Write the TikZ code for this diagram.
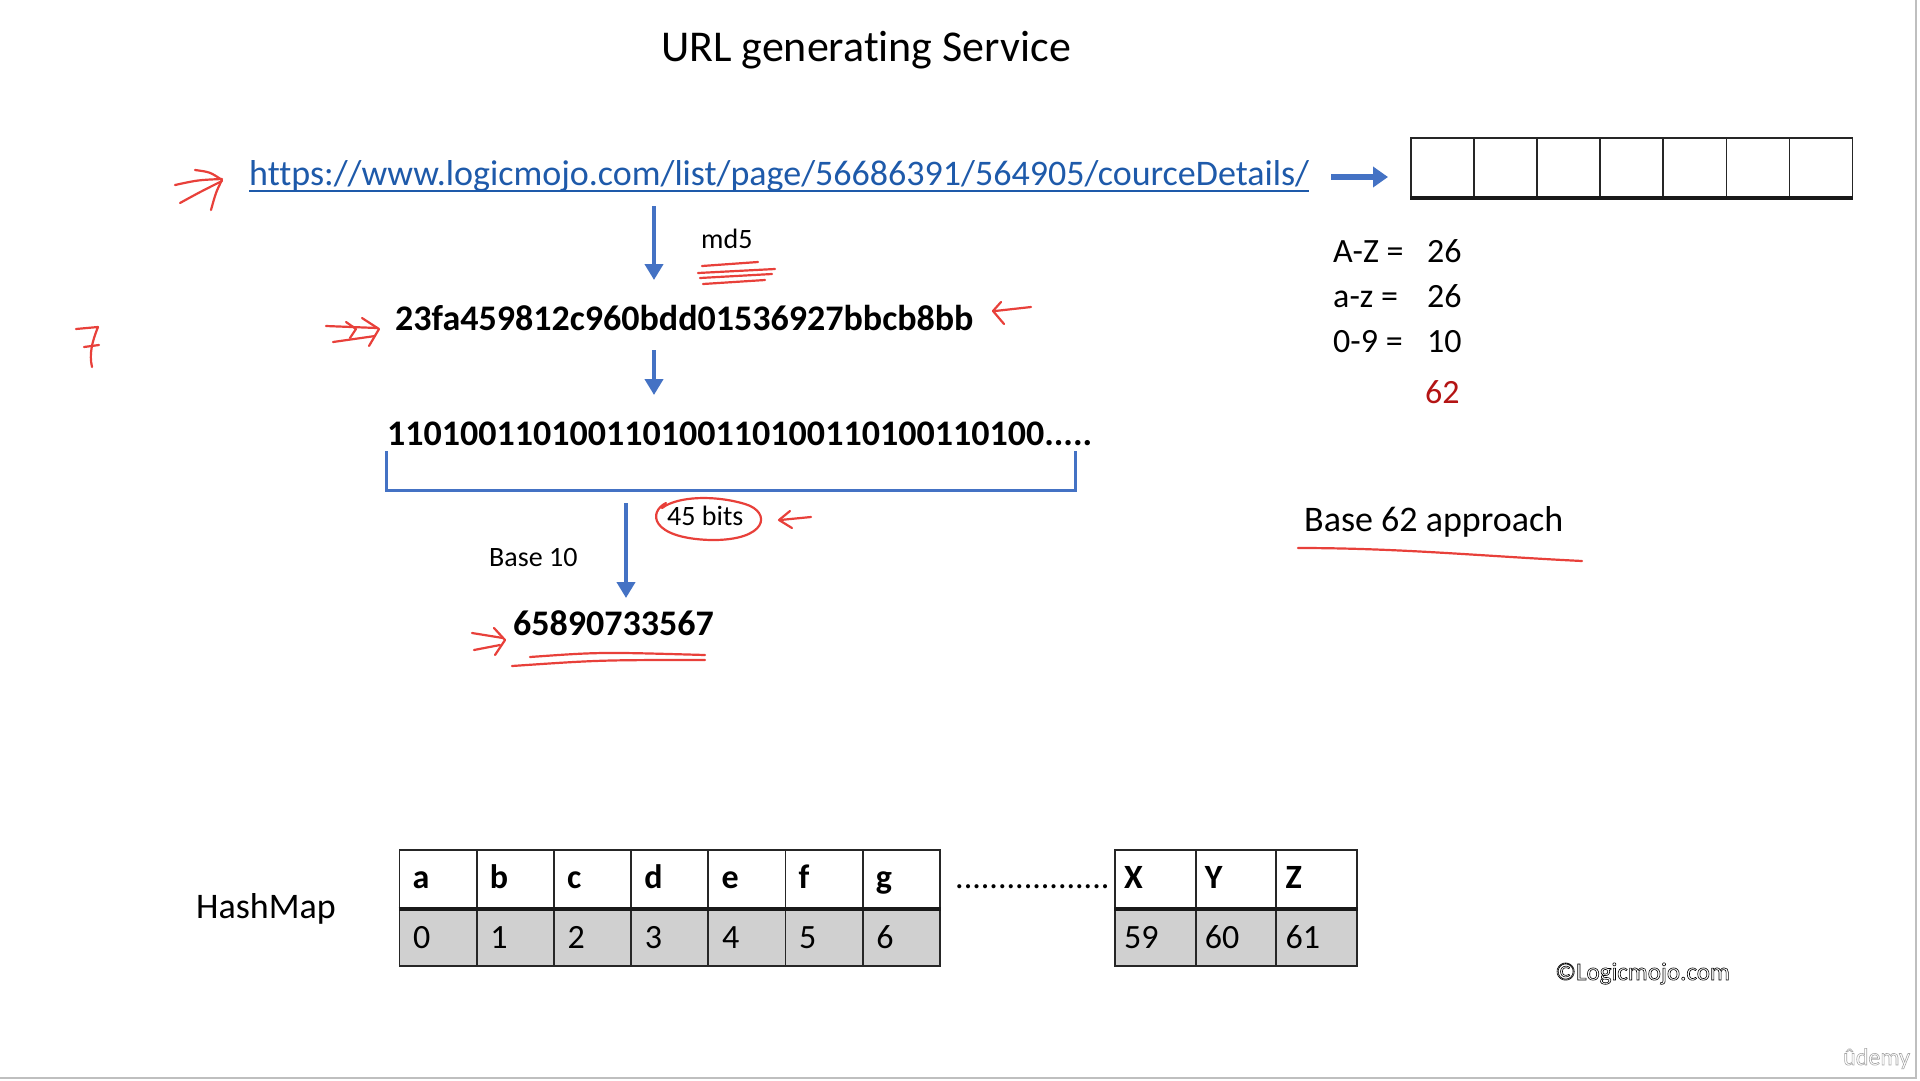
\documentclass[tikz,border=0pt]{standalone}
\usepackage{fontspec}
\setmainfont{Carlito}[Ligatures=NoCommon]
\usetikzlibrary{arrows.meta,calc}
\definecolor{urlblue}{RGB}{30,90,170}
\definecolor{arrblue}{RGB}{68,114,196}
\definecolor{inkred}{RGB}{232,64,58}
\definecolor{darkred}{RGB}{180,20,20}
\definecolor{cellgray}{RGB}{208,208,208}
\newcommand{\outlineon}[1]{\special{pdf:literal direct 1 Tr #1 w}}
\newcommand{\outlineoff}{\special{pdf:literal direct 0 Tr}}
\begin{document}
\begin{tikzpicture}[x=1pt,y=-1pt,
  txt/.style={inner sep=0pt, anchor=base west},
  fs/.style={font=\fontsize{#1}{#1}\selectfont},
  fsb/.style={font=\fontsize{#1}{#1}\selectfont\bfseries},
  blarrow/.style={draw=arrblue, line width=4.5pt, -{Triangle[width=18pt,length=16pt]}},
  ink/.style={draw=inkred, line width=2.2pt, line cap=round, line join=round},
  cell/.style={draw=black!85, line width=1.8pt, inner sep=0pt, anchor=north west, minimum height=58pt}
]
\useasboundingbox[fill=white] (0,0) rectangle (1920,1080);

% title
\node[fs=44, inner sep=0pt, anchor=base] (title) at (866,61) {URL generating Service};

% URL
\node[txt, fs=36, text=urlblue] (url) at (249,185) {https://www.logicmojo.com/list/page/56686391/564905/courceDetails/};
\draw[urlblue, line width=2.4pt] ([yshift=-6pt]url.base west) -- ([yshift=-6pt]url.base east);

% arrow to boxes
\coordinate (ra1) at (1331,177);
\coordinate (ra2) at (1388,177);
\draw[blarrow, line width=6pt, -{Triangle[width=20pt,length=15pt]}] (ra1) -- (ra2);

% boxes
\foreach \i in {0,...,6}{
  \node[draw=black!85, line width=1.5pt, minimum width=63.1pt, minimum height=59pt, inner sep=0pt, anchor=north west] (box\i) at (1410+\i*63.1,137) {};
}
\draw[line width=4pt, black!90] (box0.south west) -- (box6.south east);

% md5 arrow
\coordinate (a1s) at (654,206);
\coordinate (a1e) at (654,280);
\draw[blarrow] (a1s) -- (a1e);
\node[txt, fs=28] (md5) at (701,248) {md5};

% hash
\node[txt, fsb=36] (hash) at (395,330) {23fa459812c960bdd01536927bbcb8bb};

\coordinate (a2s) at (654,350);
\coordinate (a2e) at (654,395);
\draw[blarrow] (a2s) -- (a2e);

% binary
\node[txt, fsb=36] (bin) at (387,445) {110100110100110100110100110100110100.....};
\coordinate (br1) at (386,451);
\coordinate (br2) at (386,490);
\coordinate (br3) at (1075,490);
\coordinate (br4) at (1075,451);
\draw[arrblue, line width=3pt] (br1) -- (br2) -- (br3) -- (br4);

\coordinate (a3s) at (626,503);
\coordinate (a3e) at (626,598);
\draw[blarrow] (a3s) -- (a3e);
\node[txt, fs=28] (bits) at (667,525) {45 bits};
\node[txt, fs=28] (b10) at (489,566) {Base 10};

% decimal
\node[txt, fsb=36] (dec) at (513,635) {65890733567};

% right side counts
\node[txt, fs=34] (az) at (1333,262) {A-Z =};
\node[txt, fs=34] (azn) at (1427,262) {26};
\node[txt, fs=34] (lz) at (1333,307) {a-z =};
\node[txt, fs=34] (lzn) at (1427,307) {26};
\node[txt, fs=34] (dz) at (1333,352) {0-9 =};
\node[txt, fs=34] (dzn) at (1427,352) {10};
\node[txt, fs=34, text=darkred] (sum) at (1425,403) {62};

\node[txt, fs=36] (b62) at (1304,531) {Base 62 approach};

% HashMap
\node[txt, fs=36] (hm) at (196,918) {HashMap};
\foreach \l/\n [count=\i from 0] in {a/0,b/1,c/2,d/3,e/4,f/5,g/6}{
  \node[cell, minimum width=77.2pt] (L\i) at (398.5+\i*77.2,849) {};
  \node[cell, minimum width=77.2pt, fill=cellgray] (N\i) at (398.5+\i*77.2,907) {};
  \node[txt, fsb=34] (lt\i) at (412.5+\i*77.2,888) {\l};
  \node[txt, fs=34] (nt\i) at (413+\i*77.2,948) {\n};
}
\draw[line width=4.5pt, black!90] (L0.south west) -- (L6.south east);

\node[txt, fs=34] (dots) at (955,888) {..................};

\foreach \l/\n [count=\i from 0] in {X/59,Y/60,Z/61}{
  \node[cell, minimum width=80.7pt] (R\i) at (1114+\i*80.7,849) {};
  \node[cell, minimum width=80.7pt, fill=cellgray] (S\i) at (1114+\i*80.7,907) {};
  \node[txt, fsb=34] (rt\i) at (1124+\i*80.7,888) {\l};
  \node[txt, fs=34] (st\i) at (1124+\i*80.7,948) {\n};
}
\draw[line width=4.5pt, black!90] (R0.south west) -- (R2.south east);

% watermarks
\node[txt, fs=25] (logo) at (1555,980) {\outlineon{0.6}©Logicmojo.com\outlineoff};
\node[txt, fs=24, text=black!35] (udemy) at (1843,1065) {\outlineon{0.6}ûdemy\outlineoff};

% slide border
\draw[black!25, line width=1.5pt] (1916,0) -- (1916,1078) -- (0,1078);

% handwritten red annotations
\draw[ink] (175,185) .. controls (198,180) .. (222,179);
\draw[ink] (180,203) .. controls (200,192) .. (222,181);
\draw[ink] (195,170) .. controls (210,172) .. (222,180) .. controls (216,192) .. (211,210);

\draw[ink] (76,329) -- (98,327) .. controls (92,342) and (89,354) .. (92,367);
\draw[ink] (84,347) -- (99,345);

\draw[ink] (326,326) -- (377,328);
\draw[ink] (333,342) -- (375,336);
\draw[ink] (362,318) -- (379,329) -- (369,346);
\draw[ink] (346,322) -- (356,329) -- (350,338);

\draw[ink] (1031,307) -- (995,311);
\draw[ink] (1001,302) -- (993,311) -- (1004,324);

\draw[ink] (702,266) -- (758,262);
\draw[ink] (698,273) -- (775,269);
\draw[ink] (700,278) -- (772,274);
\draw[ink] (703,284) -- (765,280);

\draw[ink] (666,503) .. controls (648,512) and (650,538) .. (710,540) .. controls (768,541) and (772,512) .. (745,504) .. controls (715,495) and (678,496) .. (662,508);
\draw[ink] (811,517) -- (780,520);
\draw[ink] (790,511) -- (779,520) -- (792,528);

\draw[ink] (472,633) -- (503,638);
\draw[ink] (474,650) -- (500,645);
\draw[ink] (494,628) -- (505,640) -- (495,655);

\draw[ink] (530,657) .. controls (600,652) .. (705,655);
\draw[ink] (512,666) .. controls (600,660) .. (705,660);

\draw[ink] (1298,548) .. controls (1400,548) and (1480,556) .. (1582,561);
\end{tikzpicture}
\end{document}
